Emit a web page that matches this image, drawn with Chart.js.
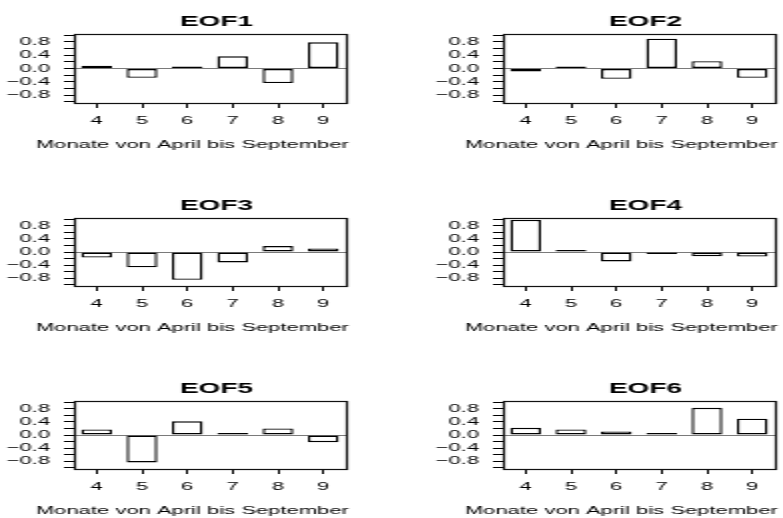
<!DOCTYPE html>
<html>
<head>
<meta charset="utf-8">
<script src="https://cdn.jsdelivr.net/npm/chart.js@4"></script>
<style>
  html, body { margin: 0; padding: 0; background: #fff; overflow: hidden; width: 783px; height: 518px; }
  /* the original R figure is drawn narrow and stretched sideways */
  #page { position: absolute; left: 0; top: 0; width: 392px; height: 518px; transform: scaleX(1.9974); transform-origin: 0 0; }
  #page canvas { position: absolute; }
</style>
</head>
<body>
<div id="page">
  <canvas id="eof1" width="177" height="153" style="left:0px;top:0px"></canvas>
  <canvas id="eof2" width="177" height="153" style="left:215px;top:0px"></canvas>
  <canvas id="eof3" width="177" height="153" style="left:0px;top:184px"></canvas>
  <canvas id="eof4" width="177" height="153" style="left:215px;top:184px"></canvas>
  <canvas id="eof5" width="177" height="153" style="left:0px;top:367px"></canvas>
  <canvas id="eof6" width="177" height="153" style="left:215px;top:367px"></canvas>
</div>
<script>
// Daten
const months = ['4', '5', '6', '7', '8', '9'];
const eof1 = [0.08, -0.28, 0.01, 0.37, -0.44, 0.79];
const eof2 = [-0.09, 0.01, -0.31, 0.90, 0.22, -0.28];
const eof3 = [-0.17, -0.47, -0.85, -0.32, 0.18, 0.11];
const eof4 = [0.98, 0.04, -0.29, -0.02, -0.13, -0.14];
const eof5 = [0.17, -0.84, 0.42, 0.06, 0.20, -0.22];
const eof6 = [0.22, 0.17, 0.11, 0.02, 0.83, 0.50];
const titles = ['EOF1', 'EOF2', 'EOF3', 'EOF4', 'EOF5', 'EOF6'];
const xTitle = 'Monate von April bis September';
const yTickValues = [-1.0, -0.8, -0.6, -0.4, -0.2, 0.0, 0.2, 0.4, 0.6, 0.8, 1.0];
const yTickLabels = ['−0.8', '−0.4', '0.0', '0.4', '0.8'];

const series = [eof1, eof2, eof3, eof4, eof5, eof6];
const boxHeights = [69, 69, 68, 68, 68, 68];

const FONT = "'Liberation Sans', Arial, Helvetica, sans-serif";

// Rahmen, Titel und x-Beschriftung wie bei R (box(), main, xlab)
const rDecor = {
    id: 'rDecor',
    afterDatasetsDraw(chart, args, opts) {
        const { ctx, chartArea: a } = chart;
        const l = Math.round(a.left) + 0.5, t = Math.round(a.top) + 0.5;
        const r = Math.round(a.right) + 0.5, b = Math.round(a.bottom) + 0.5;
        ctx.save();
        ctx.strokeStyle = '#111';
        ctx.lineWidth = 1.2;
        ctx.strokeRect(l, t, r - l, b - t);

        const cx = (a.left + a.right) / 2;
        ctx.fillStyle = '#000';
        ctx.textAlign = 'center';
        ctx.textBaseline = 'alphabetic';
        ctx.font = `bold 14px ${FONT}`;
        ctx.fillText(opts.title, cx + 3.2, a.top - 8.5);
        ctx.font = `11px ${FONT}`;
        ctx.fillText(opts.xlab, cx - 8.8, a.bottom + 45);
        ctx.restore();
    }
};

function makePanel(id, values, title, boxH) {
    return new Chart(document.getElementById(id), {
        type: 'bar',
        data: {
            labels: months,
            datasets: [{
                data: values,
                backgroundColor: '#ffffff',
                borderColor: '#000000',
                borderWidth: 1.4,
                borderSkipped: false,
                minBarLength: 2,
                barPercentage: 0.68,
                categoryPercentage: 1.0
            }]
        },
        options: {
            responsive: false,
            animation: false,
            devicePixelRatio: 1,
            layout: { padding: { left: 0, right: 4, top: 34, bottom: 89 - boxH } },
            plugins: {
                legend: { display: false },
                tooltip: { enabled: false },
                rDecor: { title: title, xlab: xTitle }
            },
            scales: {
                x: {
                    offset: true,
                    afterFit: s => { s.height = 30; },
                    border: { display: false },
                    grid: { offset: false, drawOnChartArea: false, tickLength: 5, tickColor: '#000' },
                    ticks: { color: '#000', font: { family: FONT, size: 11 }, padding: 6, maxRotation: 0, autoSkip: false }
                },
                y: {
                    min: -1.04,
                    max: 1.04,
                    afterFit: s => { s.width = 37; },
                    afterBuildTicks: s => { s.ticks = yTickValues.map(v => ({ value: v })); },
                    border: { display: false },
                    grid: {
                        color: c => (c.tick && c.tick.value === 0) ? '#7a7a7a' : 'rgba(0,0,0,0)',
                        tickColor: '#000',
                        tickLength: 5
                    },
                    ticks: {
                        color: '#000',
                        font: { family: FONT, size: 11 },
                        padding: 7,
                        autoSkip: false,
                        callback: v => {
                            const s = Number(v).toFixed(1).replace('-', '−');
                            return yTickLabels.includes(s) ? s : '';
                        }
                    }
                }
            }
        },
        plugins: [rDecor]
    });
}

['eof1', 'eof2', 'eof3', 'eof4', 'eof5', 'eof6'].forEach((id, i) => {
    makePanel(id, series[i], titles[i], boxHeights[i]);
});
</script>
</body>
</html>
